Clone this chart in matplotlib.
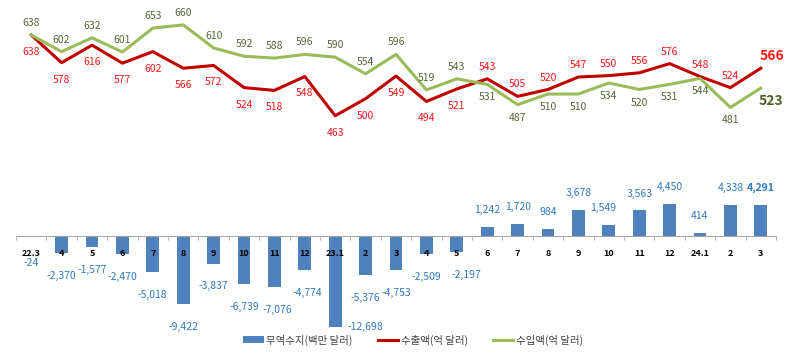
import numpy as np
import matplotlib
matplotlib.use("Agg")
import matplotlib.pyplot as plt

plt.rcParams['font.family'] = ['Noto Sans CJK KR', 'DejaVu Sans']

months = ["22.3", "4", "5", "6", "7", "8", "9", "10", "11", "12", "23.1", "2", "3",
          "4", "5", "6", "7", "8", "9", "10", "11", "12", "24.1", "2", "3"]
balance = [-24, -2370, -1577, -2470, -5018, -9422, -3837, -6739, -7076, -4774, -12698,
           -5376, -4753, -2509, -2197, 1242, 1720, 984, 3678, 1549, 3563, 4450, 414, 4338, 4291]
exports = [638, 578, 616, 577, 602, 566, 572, 524, 518, 548, 463, 500, 549, 494, 521,
           543, 505, 520, 547, 550, 556, 576, 548, 524, 566]
imports = [638, 602, 632, 601, 653, 660, 610, 592, 588, 596, 590, 554, 596, 519, 543,
           531, 487, 510, 510, 534, 520, 531, 544, 481, 523]

BLUE = "#4F81BD"
RED = "#C00000"
GREEN = "#9BBB59"
RED_TXT = "#FF1A1A"
GREEN_TXT = "#55663A"
BLUE_TXT = "#2F7BC0"

fig = plt.figure(figsize=(8, 3.54), dpi=100)
ax = fig.add_axes([0.02, 0.0678, 0.95, 0.8898])
x = np.arange(len(months))

ax.bar(x, balance, width=0.42, color=BLUE, label="무역수지(백만 달러)")
ax.set_xlim(-0.5, len(months) - 0.5)
ax.set_ylim(-13100, 30800)
for s in ["top", "right", "left"]:
    ax.spines[s].set_visible(False)
ax.spines["bottom"].set_position(("data", 0))
ax.spines["bottom"].set_color("#A6A6A6")
ax.set_yticks([])
ax.set_xticks(x)
ax.set_xticklabels(months, fontweight="bold", fontsize=6.5)
ax.tick_params(axis="x", which="major", length=0, pad=9)
ax.set_xticks(np.arange(-0.5, len(months), 1), minor=True)
ax.tick_params(axis="x", which="minor", length=3, color="#A6A6A6", direction="out")

# bar labels (a few nudged sideways like the original)
nudge_x = {10: 22, 14: 7, 19: -4, 8: 2, 9: 2}
for i, v in enumerate(balance):
    last = i == len(balance) - 1
    dy = -16.5 if v < 0 else 12.2
    if i == 0:
        dy = -19
    if i == 10:
        dy = 0
    ax.annotate(f"{v:,}", (i, v), xytext=(nudge_x.get(i, 0), dy), textcoords="offset points",
                ha="center", va="center", fontsize=7.5, color=BLUE_TXT,
                fontweight="bold" if last else "normal")

ax2 = ax.twinx()
ax2.set_ylim(-1.6, 681.4)
for s in ax2.spines.values():
    s.set_visible(False)
ax2.set_yticks([])
ax2.plot(x, exports, color=RED, lw=2.2, label="수출액(억 달러)")
ax2.plot(x, imports, color=GREEN, lw=2.2, label="수입액(억 달러)")

n = len(months)
for i in range(n - 1):
    e, m = exports[i], imports[i]
    red_up = e > m
    ax2.annotate(str(e), (i, e), xytext=(0, 8.6 if red_up else -12.2),
                 textcoords="offset points", ha="center", va="center",
                 fontsize=7.5, color=RED_TXT)
    ax2.annotate(str(m), (i, m), xytext=(0, -9.4 if red_up else 8.6),
                 textcoords="offset points", ha="center", va="center",
                 fontsize=7.5, color=GREEN_TXT)
ax2.annotate(str(exports[-1]), (n - 1, exports[-1]), xytext=(8, 8.6),
             textcoords="offset points", ha="center", va="center",
             fontsize=10, fontweight="bold", color=RED_TXT)
ax2.annotate(str(imports[-1]), (n - 1, imports[-1]), xytext=(7, -9.4),
             textcoords="offset points", ha="center", va="center",
             fontsize=10, fontweight="bold", color="#4F6228")

h1, l1 = ax.get_legend_handles_labels()
h2, l2 = ax2.get_legend_handles_labels()
fig.legend(h1 + h2, l1 + l2, loc="center", bbox_to_anchor=(413 / 800, 1 - 340 / 354),
           ncol=3, frameon=False, fontsize=7.5, labelcolor="#404040",
           handlelength=2, columnspacing=2.4, handletextpad=0.2)

fig.savefig("out.png", dpi=100)
